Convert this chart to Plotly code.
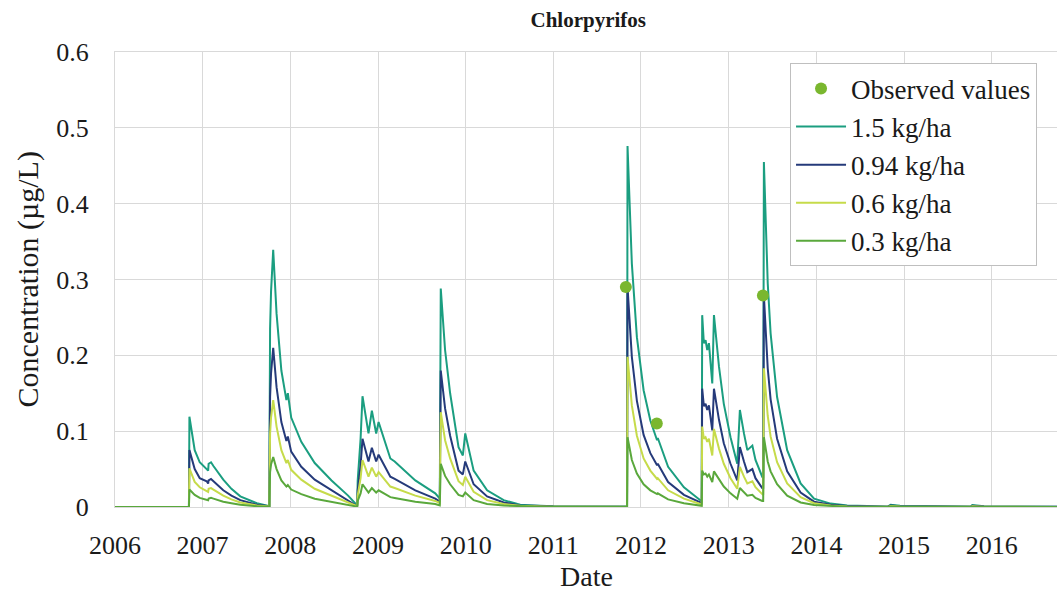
import plotly.graph_objects as go

# ---- data ----
dates = [
    # baseline + event 1
    "2006-01-01", "2006-11-05", "2006-11-07", "2006-11-29", "2006-12-20", "2007-01-18", "2007-01-24",
    "2007-01-26", "2007-02-05", "2007-02-15", "2007-03-28", "2007-05-01", "2007-06-07", "2007-08-15",
    "2007-10-06",
    # event 2
    "2007-10-07", "2007-10-09", "2007-10-13", "2007-10-22", "2007-11-05", "2007-11-25", "2007-12-16",
    "2007-12-22", "2008-01-05", "2008-02-16", "2008-04-12", "2008-06-21", "2008-08-29", "2008-10-06",
    # event 3
    "2008-10-08", "2008-10-20", "2008-10-28", "2008-11-22", "2008-12-06", "2008-12-24", "2009-01-03",
    "2009-02-21", "2009-03-11", "2009-06-05", "2009-08-27", "2009-09-15",
    # event 4
    "2009-09-19", "2009-10-07", "2009-10-28", "2009-11-11", "2009-12-02", "2009-12-20", "2009-12-30",
    "2010-02-03", "2010-03-31", "2010-06-08", "2010-08-16", "2010-10-11", "2011-01-01", "2011-11-04",
    # event 5
    "2011-11-06", "2011-11-24", "2011-12-15", "2012-01-12", "2012-02-09", "2012-03-08", "2012-03-11",
    "2012-04-23", "2012-06-28", "2012-09-04", "2012-09-10",
    # events 6, 7 and tail
    "2012-09-12", "2012-09-19", "2012-09-26", "2012-10-03", "2012-10-10", "2012-10-24", "2012-10-31",
    "2012-11-21", "2012-12-11", "2013-01-08", "2013-02-05", "2013-02-16", "2013-03-05", "2013-03-19",
    "2013-04-09", "2013-04-22", "2013-05-20", "2013-05-24", "2013-05-27", "2013-06-12", "2013-06-24",
    "2013-07-21", "2013-09-01", "2013-10-27", "2013-12-22", "2014-03-01", "2014-05-09", "2014-10-25",
    "2014-11-06", "2014-12-15", "2015-10-05", "2015-10-12", "2015-11-30", "2016-10-01",
]

conc_1_5 = [
    0, 0, 0.119, 0.075, 0.059, 0.050, 0.048, 0.057, 0.059, 0.054, 0.036, 0.024, 0.014, 0.005, 0.001,
    0.100, 0.235, 0.284, 0.339, 0.255, 0.180, 0.141, 0.150, 0.118, 0.086, 0.058, 0.035, 0.015, 0.002,
    0.035, 0.090, 0.146, 0.097, 0.127, 0.097, 0.112, 0.064, 0.060, 0.035, 0.018, 0.011,
    0.288, 0.207, 0.150, 0.119, 0.079, 0.068, 0.097, 0.048, 0.022, 0.009, 0.003, 0.002, 0.001, 0.0005,
    0.476, 0.321, 0.224, 0.154, 0.114, 0.088, 0.091, 0.053, 0.026, 0.009, 0.008,
    0.253, 0.216, 0.220, 0.207, 0.216, 0.163, 0.253, 0.185, 0.136, 0.092, 0.057, 0.128, 0.097, 0.075,
    0.081, 0.062, 0.040, 0.038, 0.455, 0.295, 0.229, 0.145, 0.075, 0.031, 0.011, 0.0045, 0.002, 0.0005,
    0.003, 0.0015, 0.0005, 0.0025, 0.001, 0.0003,
]

conc_0_94 = [
    0, 0, 0.075, 0.050, 0.038, 0.034, 0.031, 0.035, 0.037, 0.034, 0.022, 0.015, 0.009, 0.003, 0.001,
    0.060, 0.145, 0.176, 0.210, 0.158, 0.112, 0.087, 0.093, 0.073, 0.053, 0.036, 0.022, 0.009, 0.001,
    0.022, 0.055, 0.090, 0.060, 0.078, 0.060, 0.069, 0.040, 0.037, 0.022, 0.011, 0.007,
    0.180, 0.130, 0.094, 0.075, 0.048, 0.043, 0.060, 0.030, 0.014, 0.006, 0.002, 0.0015, 0.0005, 0.0003,
    0.290, 0.198, 0.140, 0.095, 0.071, 0.055, 0.057, 0.033, 0.016, 0.006, 0.005,
    0.156, 0.133, 0.136, 0.128, 0.134, 0.101, 0.156, 0.115, 0.084, 0.057, 0.035, 0.079, 0.060, 0.046,
    0.050, 0.038, 0.025, 0.024, 0.279, 0.183, 0.142, 0.090, 0.047, 0.019, 0.007, 0.003, 0.0012, 0.0003,
    0.0019, 0.0009, 0.0003, 0.0016, 0.0006, 0.0002,
]

conc_0_6 = [
    0, 0, 0.051, 0.033, 0.026, 0.021, 0.020, 0.024, 0.025, 0.023, 0.015, 0.010, 0.006, 0.002, 0.0005,
    0.040, 0.097, 0.118, 0.141, 0.106, 0.075, 0.058, 0.062, 0.049, 0.036, 0.024, 0.015, 0.006, 0.001,
    0.015, 0.038, 0.062, 0.040, 0.052, 0.040, 0.046, 0.027, 0.025, 0.015, 0.008, 0.005,
    0.125, 0.088, 0.064, 0.051, 0.034, 0.029, 0.040, 0.020, 0.009, 0.004, 0.0015, 0.001, 0.0003, 0.0002,
    0.198, 0.134, 0.094, 0.064, 0.048, 0.037, 0.038, 0.022, 0.011, 0.004, 0.003,
    0.106, 0.090, 0.092, 0.086, 0.090, 0.068, 0.103, 0.077, 0.057, 0.038, 0.024, 0.053, 0.040, 0.031,
    0.034, 0.026, 0.017, 0.016, 0.183, 0.120, 0.093, 0.059, 0.031, 0.013, 0.005, 0.002, 0.0008, 0.0002,
    0.0013, 0.0006, 0.0002, 0.0011, 0.0004, 0.0001,
]

conc_0_3 = [
    0, 0, 0.023, 0.016, 0.012, 0.010, 0.009, 0.011, 0.012, 0.011, 0.007, 0.005, 0.003, 0.001, 0.0003,
    0.020, 0.046, 0.056, 0.066, 0.050, 0.035, 0.027, 0.029, 0.023, 0.017, 0.011, 0.007, 0.003, 0.0005,
    0.008, 0.018, 0.030, 0.019, 0.025, 0.019, 0.022, 0.013, 0.012, 0.007, 0.004, 0.002,
    0.057, 0.041, 0.030, 0.024, 0.016, 0.014, 0.019, 0.009, 0.004, 0.002, 0.001, 0.0005, 0.0002, 0.0001,
    0.092, 0.062, 0.044, 0.030, 0.022, 0.017, 0.018, 0.010, 0.005, 0.002, 0.0015,
    0.048, 0.043, 0.044, 0.040, 0.043, 0.033, 0.047, 0.036, 0.027, 0.018, 0.011, 0.025, 0.019, 0.015,
    0.016, 0.012, 0.008, 0.008, 0.092, 0.060, 0.047, 0.030, 0.015, 0.006, 0.0025, 0.001, 0.0004, 0.0001,
    0.0007, 0.0003, 0.0001, 0.0005, 0.0002, 0.0001,
]

obs_dates = ["2011-10-30", "2012-03-07", "2013-05-23"]
obs_values = [0.29, 0.11, 0.279]

assert len(dates) == len(conc_1_5) == len(conc_0_94) == len(conc_0_6) == len(conc_0_3)

series_names = ["1.5 kg/ha", "0.94 kg/ha", "0.6 kg/ha", "0.3 kg/ha"]
series_values = [conc_1_5, conc_0_94, conc_0_6, conc_0_3]
series_colors = ["#1b9e80", "#253a7a", "#c6db4a", "#5aa83c"]
obs_color = "#7ab72f"

FONT = "Liberation Serif"
TXT = "#1a1a1a"

fig = go.Figure()
for i, (name, vals, col) in enumerate(zip(series_names, series_values, series_colors)):
    fig.add_trace(go.Scatter(
        x=dates, y=vals, mode="lines", name=name,
        line=dict(color=col, width=2), legendrank=2 + i,
    ))
fig.add_trace(go.Scatter(
    x=obs_dates, y=obs_values, mode="markers", name="Observed values",
    marker=dict(color=obs_color, size=12), legendrank=1,
))

grid = "#d9d9d9"
fig.update_layout(
    width=1057, height=592,
    margin=dict(l=115, r=0, t=52, b=85),
    paper_bgcolor="white", plot_bgcolor="white",
    font=dict(family=FONT, size=26, color=TXT),
    title=dict(text="<b>Chlorpyrifos</b>", x=0.5565, xanchor="center", y=0.966, yanchor="middle",
               font=dict(family=FONT, size=21, color=TXT)),
    showlegend=True,
    legend=dict(
        x=0.7166, y=0.975, xanchor="left", yanchor="top",
        bgcolor="white", bordercolor="#bfbfbf", borderwidth=1,
        font=dict(family=FONT, size=27, color=TXT),
        tracegroupgap=0, itemwidth=50,
    ),
    xaxis=dict(
        type="date", range=["2006-01-01", "2016-09-29"],
        tick0="2006-01-01", dtick="M12", tickformat="%Y",
        showgrid=True, gridcolor=grid, gridwidth=1.3,
        showline=True, linecolor=grid, linewidth=1.3, mirror=True,
        ticks="", ticklabelstandoff=15,
        tickfont=dict(family=FONT, size=26, color=TXT),
        zeroline=False,
    ),
    yaxis=dict(
        range=[0, 0.6], dtick=0.1, tick0=0,
        showgrid=True, gridcolor=grid, gridwidth=1.3,
        showline=True, linecolor=grid, linewidth=1.3, mirror=True,
        ticks="", ticklabelstandoff=20,
        tickfont=dict(family=FONT, size=26, color=TXT),
        zeroline=False,
    ),
    annotations=[
        dict(text="Date", xref="paper", yref="paper", x=0.5, y=-0.152,
             xanchor="center", yanchor="middle", showarrow=False,
             font=dict(family=FONT, size=28, color=TXT)),
        dict(text="Concentration (µg/L)", xref="paper", yref="paper", x=-0.0924, y=0.5,
             xanchor="center", yanchor="middle", showarrow=False, textangle=-90,
             font=dict(family=FONT, size=30, color=TXT)),
    ],
)

fig.write_html("out.html", config={"displayModeBar": False},
               post_script="document.body.style.margin='0';")
